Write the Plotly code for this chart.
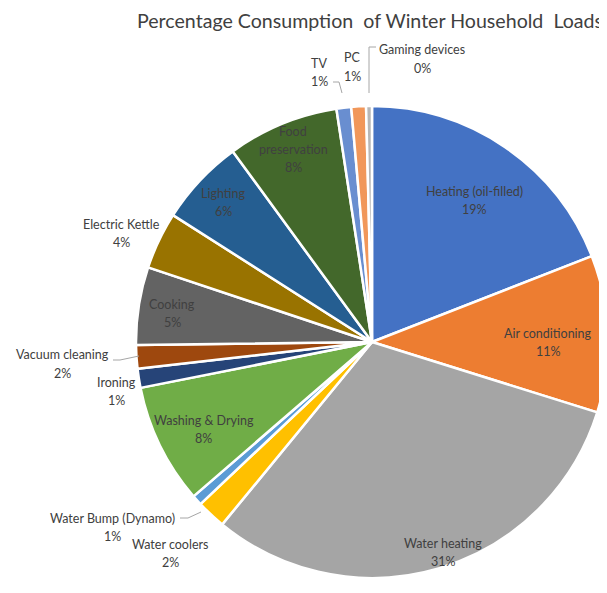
import plotly.graph_objects as go

# ---- data ----
categories = ["Heating (oil-filled)", "Air conditioning", "Water heating", "Water coolers",
              "Water Bump (Dynamo)", "Washing & Drying", "Ironing", "Vacuum cleaning",
              "Cooking", "Electric Kettle", "Lighting", "Food preservation", "TV", "PC",
              "Gaming devices"]
values = [19.0, 10.7, 31.0, 2.0, 0.7, 8.2, 1.3, 1.6, 5.3, 3.9, 5.9, 7.6, 1.0, 1.0, 0.4]
colors = ["#4472C4", "#ED7D31", "#A5A5A5", "#FFC000", "#5B9BD5", "#70AD47", "#264478",
          "#9E480E", "#636363", "#997300", "#255E91", "#43682B", "#698ED0", "#F1975A",
          "#B7B7B7"]
title_text = "Percentage Consumption  of Winter Household  Loads"

W, H = 607, 593
OFF = 8  # page body margin in the browser

def px(x):
    return (x - OFF) / W

def py(y):
    return 1 - (y - OFF) / H

# pie placement (page pixels)
cx, cy, r = 372, 342, 236

fig = go.Figure(go.Pie(
    labels=categories, values=values, sort=False, direction="clockwise", rotation=0,
    marker=dict(colors=colors, line=dict(color="white", width=2.5)),
    textinfo="none", hoverinfo="label+percent", showlegend=False,
    domain=dict(x=[px(cx - r), px(cx + r)], y=[py(cy + r), py(cy - r)]),
))

# label layout: (x center, y of first line, name lines)
label_layout = {
    "Heating (oil-filled)": (474, 191, ["Heating (oil-filled)"]),
    "Air conditioning": (548, 333, ["Air conditioning"]),
    "Water heating": (443, 543, ["Water heating"]),
    "Water coolers": (170, 544, ["Water coolers"]),
    "Water Bump (Dynamo)": (112, 518, ["Water Bump (Dynamo)"]),
    "Washing & Drying": (204, 420, ["Washing & Drying"]),
    "Ironing": (116, 382, ["Ironing"]),
    "Vacuum cleaning": (62, 355, ["Vacuum cleaning"]),
    "Cooking": (172, 304, ["Cooking"]),
    "Electric Kettle": (121, 224, ["Electric Kettle"]),
    "Lighting": (223, 193, ["Lighting"]),
    "Food preservation": (293, 131, ["Food", "preservation"]),
    "TV": (319, 63, ["TV"]),
    "PC": (352, 58, ["PC"]),
    "Gaming devices": (422, 50, ["Gaming devices"]),
}
line_gap = 18.5
total = sum(values)
annotations = []
for name, v in zip(categories, values):
    x0, y0, lines = label_layout[name]
    pct = f"{round(v / total * 100)}%"
    for k, t in enumerate(lines + [pct]):
        annotations.append(dict(
            x=px(x0), y=py(y0 + k * line_gap), xref="paper", yref="paper",
            text=t, showarrow=False, xanchor="center", yanchor="middle",
            font=dict(family="Lato, Open Sans, sans-serif", size=12.5, color="#404040"),
        ))

annotations.append(dict(
    x=px(370), y=py(21), xref="paper", yref="paper", text=title_text, showarrow=False,
    xanchor="center", yanchor="middle",
    font=dict(family="Lato, Open Sans, sans-serif", size=19.6, color="#404040"),
))

# leader lines (page pixels)
leaders = [
    [(180, 518), (188, 518), (201, 512)],
    [(113, 360), (120, 360), (139, 356)],
    [(333, 82), (339, 82), (342, 93)],
    [(376, 47), (369, 47), (369, 93)],
]
shapes = []
for pts in leaders:
    path = "M " + " L ".join(f"{px(x)},{py(y)}" for x, y in pts)
    shapes.append(dict(type="path", path=path, xref="paper", yref="paper",
                       line=dict(color="#A6A6A6", width=1)))

fig.update_layout(
    width=W, height=H, margin=dict(l=0, r=0, t=0, b=0),
    paper_bgcolor="white", plot_bgcolor="white",
    annotations=annotations, shapes=shapes,
)

fig.write_html("out.html")
